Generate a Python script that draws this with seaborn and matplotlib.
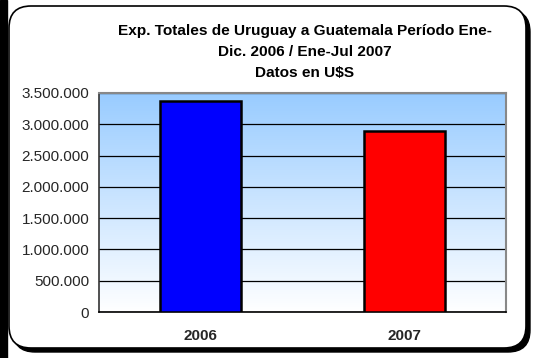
import matplotlib
matplotlib.use("Agg")
import matplotlib.pyplot as plt
import seaborn as sns
import numpy as np
import pandas as pd
from matplotlib.patches import FancyBboxPatch, Rectangle
from matplotlib.ticker import FuncFormatter

years = ["2006", "2007"]
values = [3370000, 2900000]
bar_colors = ["#0000FF", "#FF0000"]
title_lines = ["Exp. Totales de Uruguay a Guatemala Período Ene-",
               "Dic. 2006 / Ene-Jul 2007",
               "Datos en U$S"]

sns.set_theme(style="white")
plt.rcParams['font.family'] = ['Liberation Sans', 'DejaVu Sans']

W, H = 536, 358
fig = plt.figure(figsize=(W / 100, H / 100), dpi=100)
fig.patch.set_facecolor("white")

# background frame
bg = fig.add_axes([0, 0, 1, 1])
bg.set_xlim(0, W)
bg.set_ylim(H, 0)
bg.axis("off")
bg.add_patch(Rectangle((0, 0), 7, H, color="black"))
bg.add_patch(FancyBboxPatch((13, 10), 517, 342, boxstyle="round,pad=0,rounding_size=22",
                            fc="black", ec="black", lw=1))
bg.add_patch(FancyBboxPatch((9, 6), 517, 342, boxstyle="round,pad=0,rounding_size=22",
                            fc="white", ec="black", lw=1.2))

for i, line in enumerate(title_lines):
    bg.text(305, 31 + i * 21, line, ha="center", va="center", fontsize=11.1,
            fontweight="bold", color="black")

# plot area: x 99..506, y 93..312
ax = fig.add_axes([99 / W, 1 - 312 / H, (506 - 99) / W, (312 - 93) / H])
ymax = 3500000
grad = np.linspace(0, 1, 256).reshape(-1, 1)
top = np.array([153, 204, 255]) / 255
bot = np.array([255, 255, 255]) / 255
img = top[None, None, :] * (1 - grad[:, :, None]) + bot[None, None, :] * grad[:, :, None]
ax.imshow(img, extent=[-0.5, 1.5, 0, ymax], origin="upper", aspect="auto", zorder=0)

df = pd.DataFrame({"year": years, "value": values})
sns.barplot(data=df, x="year", y="value", hue="year", palette=bar_colors, legend=False,
            saturation=1, width=0.4, edgecolor="black", linewidth=1.8, ax=ax, zorder=3)
ax.set_xlim(-0.5, 1.5)
ax.set_ylim(0, ymax)
ax.set_yticks(np.arange(0, ymax + 1, 500000))
ax.yaxis.set_major_formatter(FuncFormatter(lambda v, p: f"{int(v):,}".replace(",", ".")))
ax.grid(axis="y", color="black", linewidth=0.9, zorder=1)
ax.set_axisbelow(True)
ax.set_xlabel("")
ax.set_ylabel("")
ax.set_xticks([0.5], minor=True)
ax.tick_params(axis="x", which="major", length=0, pad=12, labelsize=11)
ax.tick_params(axis="x", which="minor", length=4, direction="out", color="#333333")
ax.tick_params(axis="y", length=5, direction="out", labelsize=11, color="#333333", pad=2)
for lbl in ax.get_xticklabels():
    lbl.set_fontweight("bold")
for s in ["top", "right"]:
    ax.spines[s].set_color("#888888")
    ax.spines[s].set_linewidth(1.5)
ax.spines["left"].set_color("#333333")
ax.spines["left"].set_linewidth(1.2)
ax.spines["bottom"].set_color("black")
ax.spines["bottom"].set_linewidth(1.2)

fig.savefig("out.png", dpi=100)
